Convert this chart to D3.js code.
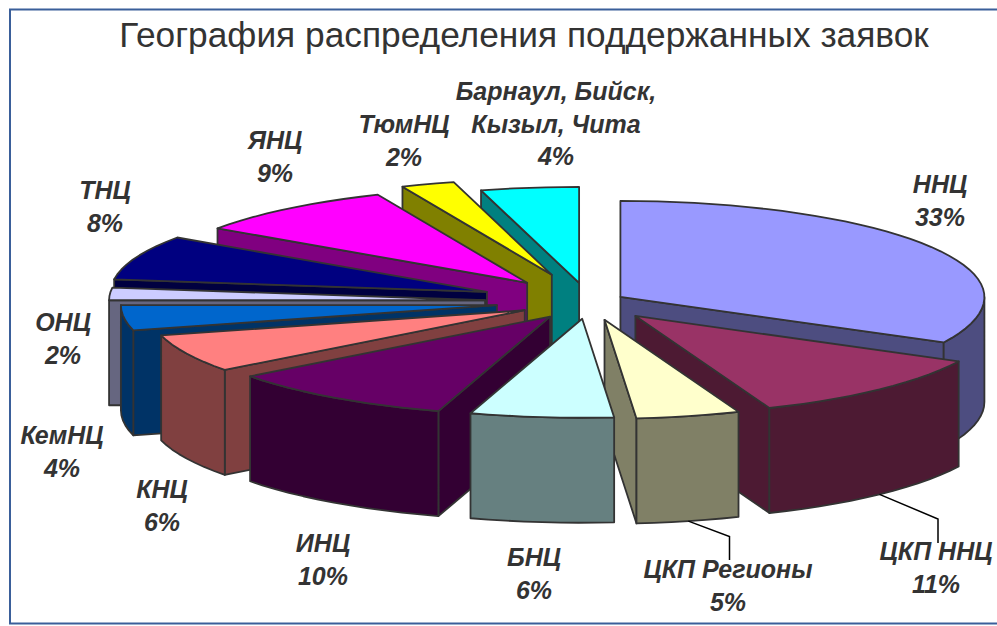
<!DOCTYPE html>
<html>
<head>
<meta charset="utf-8">
<script src="https://cdn.jsdelivr.net/npm/d3@7"></script>
<style>
  html, body { margin: 0; padding: 0; background: #fff; overflow: hidden; }
  svg { display: block; }
</style>
</head>
<body>
<svg id="chart"></svg>
<script>
const chartTitle = 'География распределения поддержанных заявок';

// clockwise from 12 o'clock, shares
const categories = ['ННЦ', 'ЦКП ННЦ', 'ЦКП Регионы', 'БНЦ', 'ИНЦ', 'КНЦ', 'КемНЦ', 'ОНЦ', 'ТНЦ', 'ЯНЦ', 'ТюмНЦ', 'Барнаул, Бийск, Кызыл, Чита'];
const shares = [32.6, 11.4, 4.6, 6.2, 9.9, 6.2, 4.1, 2.1, 7.5, 8.9, 2.3, 4.2];

const colors = ['#9999ff', '#993366', '#ffffcc', '#ccffff', '#660066', '#ff8080', '#0066cc', '#ccccff', '#000080', '#ff00ff', '#ffff00', '#00ffff'];
const explosion = [0.101, 0.19, 0.185, 0.17, 0.18, 0.19, 0.247, 0.277, 0.291, 0.259, 0.3, 0.2];

// label centres, one row per category
const labelX = [940, 936, 728, 534, 323, 162, 62, 63, 105, 275, 404, 556];
const labelY = [193, 560, 578, 566, 552, 498, 444, 331, 199, 149, 133, 100];
const labelLines = { 'Барнаул, Бийск, Кызыл, Чита': ['Барнаул, Бийск,', 'Кызыл, Чита'] };
const leaders = { 'ЦКП ННЦ': [938, 519, 543], 'ЦКП Регионы': [729.5, 536.5, 560] };

const width = 997;
const height = 626;
const centerX = 589;
const centerY = 302;
const radiusLeft = 376;
const radiusRight = 364;
const radiusBack = 96;
const radiusFront = 99;
const depth = 105;
const lineHeight = 32.5;

const svg = d3.select('#chart')
    .attr('width', width)
    .attr('height', height);

svg.append('rect')
    .attr('x', 10)
    .attr('y', 9.5)
    .attr('width', width)
    .attr('height', 614)
    .attr('fill', '#fff')
    .attr('stroke', '#3a5f9a')
    .attr('stroke-width', 2);

svg.append('text')
    .attr('x', 524)
    .attr('y', 47)
    .attr('text-anchor', 'middle')
    .attr('font-family', '"Liberation Sans", Arial, sans-serif')
    .attr('font-size', 35.3)
    .attr('fill', '#333')
    .text(chartTitle);

const xScale = d3.scaleLinear().domain([-1, 0, 1]).range([centerX - radiusLeft, centerX, centerX + radiusRight]);
const yScale = d3.scaleLinear().domain([-1, 0, 1]).range([centerY + radiusFront, centerY, centerY - radiusBack]);

const pie = d3.pie().sort(null).value(d => d.share);
const slices = pie(categories.map((name, i) => ({
    name: name,
    share: shares[i],
    color: colors[i],
    explode: explosion[i]
})));

// a point on the tilted pie: r is 0..1 of the radius, angle clockwise from the top
function project(slice, r, angle, z) {
    const mid = (slice.startAngle + slice.endAngle) / 2;
    const e = slice.data.explode;
    const apexX = xScale(e * Math.sin(mid));
    const apexY = yScale(e * Math.cos(mid));
    return [
        apexX + xScale(r * Math.sin(angle)) - centerX,
        apexY + yScale(r * Math.cos(angle)) - centerY + z
    ];
}

function arcPoints(slice, from, to, z) {
    const n = Math.max(1, Math.ceil(Math.abs(to - from) / (Math.PI / 60)));
    return d3.range(n + 1).map(i => project(slice, 1, from + (to - from) * i / n, z));
}

const line = d3.line();

// back slices first, front ones paint over their walls
const ordered = slices.slice().sort((a, b) =>
    Math.cos((b.startAngle + b.endAngle) / 2) - Math.cos((a.startAngle + a.endAngle) / 2));

const groups = svg.selectAll('g.slice')
    .data(ordered)
    .join('g')
    .attr('class', 'slice')
    .attr('stroke', '#333')
    .attr('stroke-width', 1.8)
    .attr('stroke-linejoin', 'round');

groups.each(function(d) {
    const g = d3.select(this);
    const wall = d3.interpolateRgb(d.data.color, '#000')(0.5);
    const face = pts => g.append('path').attr('d', line(pts) + 'Z');

    // radial side walls
    if (d.startAngle > Math.PI) {
        face([project(d, 0, 0, 0), project(d, 1, d.startAngle, 0), project(d, 1, d.startAngle, depth), project(d, 0, 0, depth)])
            .attr('fill', wall);
    }
    if (d.endAngle < Math.PI) {
        face([project(d, 0, 0, 0), project(d, 1, d.endAngle, 0), project(d, 1, d.endAngle, depth), project(d, 0, 0, depth)])
            .attr('fill', wall);
    }

    // outer wall, only the part on the front half of the ellipse
    const a0 = Math.max(d.startAngle, Math.PI / 2);
    const a1 = Math.min(d.endAngle, Math.PI * 1.5);
    if (a1 > a0) {
        face(arcPoints(d, a0, a1, 0).concat(arcPoints(d, a1, a0, depth)))
            .attr('fill', wall);
    }

    // top
    face([project(d, 0, 0, 0)].concat(arcPoints(d, d.startAngle, d.endAngle, 0)))
        .attr('fill', d.data.color);
});

// leader lines for the two labels that sit away from their slices
slices.filter(d => leaders[d.data.name]).forEach(d => {
    const mid = (d.startAngle + d.endAngle) / 2;
    const from = project(d, 1, mid, depth);
    const [x, elbowY, endY] = leaders[d.data.name];
    svg.append('path')
        .attr('d', line([from, [x, elbowY], [x, endY]]))
        .attr('fill', 'none')
        .attr('stroke', '#000')
        .attr('stroke-width', 1.5);
});

slices.forEach((d, i) => {
    const rows = (labelLines[d.data.name] || [d.data.name]).concat(Math.round(d.data.share) + '%');
    const text = svg.append('text')
        .attr('text-anchor', 'middle')
        .attr('font-family', '"Liberation Sans", Arial, sans-serif')
        .attr('font-size', 25)
        .attr('font-weight', 'bold')
        .attr('font-style', 'italic')
        .attr('fill', '#333');
    rows.forEach((row, k) => {
        text.append('tspan')
            .attr('x', labelX[i])
            .attr('y', labelY[i] + k * lineHeight)
            .text(row);
    });
});
</script>
</body>
</html>
